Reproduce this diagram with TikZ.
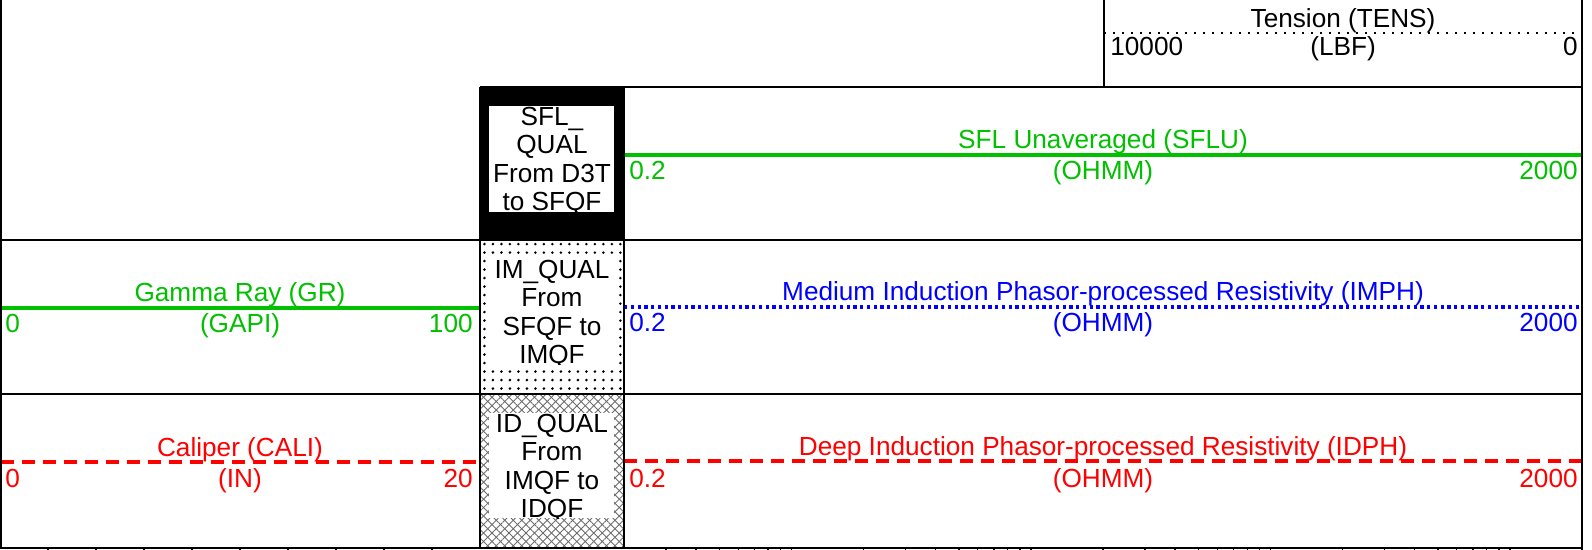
\documentclass[tikz,border=0pt]{standalone}
\usepackage{fontspec}
\setmainfont{Liberation Sans}
\usetikzlibrary{patterns,patterns.meta}
\definecolor{curvegreen}{RGB}{0,192,0}
\definecolor{curveblue}{RGB}{0,0,255}
\definecolor{curvered}{RGB}{255,0,0}
\newcommand\logfont{\fontsize{14.9}{16.16}\selectfont}
\tikzset{
  frameline/.style={black,line width=1.2pt},
  tickline/.style={black,line width=0.8pt},
  boxtext/.style={align=center,text=black},
  redcurve/.style={curvered,dash pattern=on 0.26cm off 0.16cm}
}
\begin{document}
\begin{tikzpicture}[x=0.02cm,y=-0.02cm,every node/.style={font=\logfont,inner sep=0pt}]
\useasboundingbox (0,0) rectangle (1592,550);
\fill[white] (0,0) rectangle (1592,550);
\fill[black] (480,87) rectangle (624,240);
\fill[pattern={Dots[radius=0.8pt,distance=0.17cm]}] (480,240) rectangle (624,394);
\fill[pattern={Lines[angle=45,distance=0.12cm,line width=0.5pt]},pattern color=gray!85!black] (480,394) rectangle (624,548);
\fill[pattern={Lines[angle=-45,distance=0.12cm,line width=0.5pt]},pattern color=gray!85!black] (480,394) rectangle (624,548);
\fill[white] (489,106) rectangle (614,212);
\fill[white] (489,259) rectangle (614,365);
\fill[white] (489,413) rectangle (614,518);
\begin{scope}
\clip (489,106) rectangle (614,212);
\node[boxtext] (sflqual) at (552,161.5) {SFL\_\\QUAL\\From D3T\\to SFQF};
\end{scope}
\begin{scope}
\clip (489,259) rectangle (614,365);
\node[boxtext] (imqual) at (552,314.5) {IM\_QUAL\\From\\SFQF to\\IMQF};
\end{scope}
\begin{scope}
\clip (489,413) rectangle (614,518);
\node[boxtext] (idqual) at (552,468.5) {ID\_QUAL\\From\\IMQF to\\IDQF};
\end{scope}
\draw[line width=1.5pt,dash pattern=on 0.045cm off 0.135cm] (1104,33) -- (1582,33);
\draw[curvegreen,line width=1.9pt] (624,155) -- (1582,155);
\draw[curvegreen,line width=1.9pt] (1,308) -- (480,308);
\draw[curveblue,line width=2pt,dash pattern=on 0.065cm off 0.07cm] (624,307) -- (1582,307);
\draw[redcurve,line width=1.9pt] (1,462) -- (480,462);
\draw[redcurve,line width=2.1pt] (624,461) -- (1582,461);
\node[anchor=base] (tens) at (1343,28) {Tension (TENS)};
\node[anchor=base west] (tensmin) at (1110,56) {10000};
\node[anchor=base] (tensunit) at (1343,56) {(LBF)};
\node[anchor=base east] (tensmax) at (1578,56) {0};
\node[anchor=base,curvegreen] (sflu) at (1103,149) {SFL Unaveraged (SFLU)};
\node[anchor=base west,curvegreen] (sflumin) at (629,180) {0.2};
\node[anchor=base,curvegreen] (sfluunit) at (1103,180) {(OHMM)};
\node[anchor=base east,curvegreen] (sflumax) at (1578,180) {2000};
\node[anchor=base,curvegreen] (gr) at (240,302) {Gamma Ray (GR)};
\node[anchor=base west,curvegreen] (grmin) at (5,333) {0};
\node[anchor=base,curvegreen] (grunit) at (240,333) {(GAPI)};
\node[anchor=base east,curvegreen] (grmax) at (473,333) {100};
\node[anchor=base,curveblue] (imph) at (1103,301) {Medium Induction Phasor-processed Resistivity (IMPH)};
\node[anchor=base west,curveblue] (imphmin) at (629,332) {0.2};
\node[anchor=base,curveblue] (imphunit) at (1103,332) {(OHMM)};
\node[anchor=base east,curveblue] (imphmax) at (1578,332) {2000};
\node[anchor=base,curvered] (cali) at (240,456) {Caliper (CALI)};
\node[anchor=base west,curvered] (calimin) at (5,487) {0};
\node[anchor=base,curvered] (caliunit) at (240,487) {(IN)};
\node[anchor=base east,curvered] (calimax) at (473,487) {20};
\node[anchor=base,curvered] (idph) at (1103,455) {Deep Induction Phasor-processed Resistivity (IDPH)};
\node[anchor=base west,curvered] (idphmin) at (629,487) {0.2};
\node[anchor=base,curvered] (idphunit) at (1103,487) {(OHMM)};
\node[anchor=base east,curvered] (idphmax) at (1578,487) {2000};
\draw[frameline] (1,0) -- (1,548) -- (1582,548) -- (1582,0);
\draw[frameline] (1104,0) -- (1104,87);
\draw[frameline] (480,87) -- (1582,87);
\draw[frameline] (1,240) -- (1582,240);
\draw[frameline] (1,394) -- (1582,394);
\draw[frameline] (480,87) -- (480,548);
\draw[frameline] (624,87) -- (624,548);
\foreach \k in {1,...,9}
  \draw[tickline] (48*\k,548) -- ++(0,8);
\foreach \d in {0,...,3}
  \foreach \m in {1.5,2,2.5,3,3.5,4,4.5,5,10}
    \draw[tickline] ({624+239.5*(\d+log10(\m))},548) -- ++(0,8);
\end{tikzpicture}
\end{document}
